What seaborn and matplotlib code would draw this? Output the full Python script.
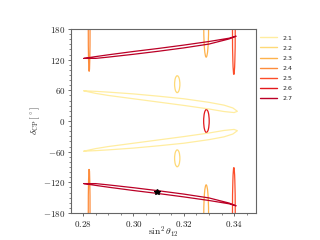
import pandas as pd
import matplotlib.pyplot as plt
import seaborn as sns
from matplotlib.patches import Ellipse
from matplotlib.lines import Line2D

# contour levels and their colours
levels = ["2.1", "2.2", "2.3", "2.4", "2.5", "2.6", "2.7"]
level_colors = dict(zip(levels, sns.color_palette("YlOrRd", 7)))

# thin tilted loops (upper edge left->right, lower edge right->left)
loop_21_top_x = [0.2803, 0.285, 0.29, 0.30, 0.31, 0.32, 0.33, 0.336, 0.3395, 0.3413,
                 0.3400, 0.336, 0.33, 0.32, 0.31, 0.30, 0.29, 0.285, 0.2803]
loop_21_top_y = [59, 58, 56.5, 53, 48.5, 43.5, 36.5, 31, 25.5, 19,
                 16.5, 18.5, 23.5, 30.5, 37, 43.5, 50, 54, 59]
loop_21_bot_x = [0.2803, 0.285, 0.29, 0.30, 0.31, 0.32, 0.33, 0.336, 0.3395, 0.3413,
                 0.3400, 0.336, 0.33, 0.32, 0.31, 0.30, 0.29, 0.285, 0.2803]
loop_21_bot_y = [-59, -58, -56.5, -53, -48.5, -43.5, -36.5, -31, -25.5, -19,
                 -16.5, -18.5, -23.5, -30.5, -37, -43.5, -50, -54, -59]

loop_27_top_x = [0.2803, 0.285, 0.29, 0.30, 0.31, 0.32, 0.33, 0.338, 0.3408,
                 0.338, 0.33, 0.32, 0.31, 0.30, 0.29, 0.285, 0.2803]
loop_27_top_y = [122.5, 126, 129.5, 136, 142, 148.5, 155.5, 162, 166,
                 160.5, 150.5, 143, 136.5, 130.5, 125, 122.5, 122.5]
loop_27_bot_x = [0.2803, 0.285, 0.29, 0.30, 0.31, 0.32, 0.33, 0.338, 0.3408,
                 0.338, 0.33, 0.32, 0.31, 0.30, 0.29, 0.285, 0.2803]
loop_27_bot_y = [-122.5, -126, -129.5, -136, -142, -148.5, -155.5, -162, -166,
                 -160.5, -150.5, -143, -136.5, -130.5, -125, -122.5, -122.5]

# small closed contours (centre, full width, full height)
ell_level = ["2.2", "2.2", "2.3", "2.3", "2.4", "2.4", "2.5", "2.5", "2.6"]
ell_x = [0.3174, 0.3174, 0.3289, 0.3289, 0.2824, 0.2824, 0.3399, 0.3399, 0.3290]
ell_y = [72, -73, 180, -180, 180, -180, 180, -180, 0]
ell_w = [0.0021, 0.0021, 0.0019, 0.0019, 0.0007, 0.0007, 0.0011, 0.0011, 0.0022]
ell_h = [33, 33, 110, 110, 166, 172, 178, 178, 45]

# best fit point
best_x = [0.3095]
best_y = [-139]

xticks = [0.28, 0.30, 0.32, 0.34]
xtick_labels = [r"$0.28$", r"$0.30$", r"$0.32$", r"$0.34$"]
yticks = [-180, -120, -60, 0, 60, 120, 180]
ytick_labels = [r"$-180$", r"$-120$", r"$-60$", r"$0$", r"$60$", r"$120$", r"$180$"]

sns.set_style("ticks")
plt.rcParams["mathtext.fontset"] = "cm"
plt.rcParams["font.family"] = ["DejaVu Sans"]

loops = [
    ("2.1", "a", loop_21_top_x, loop_21_top_y),
    ("2.1", "b", loop_21_bot_x, loop_21_bot_y),
    ("2.7", "c", loop_27_top_x, loop_27_top_y),
    ("2.7", "d", loop_27_bot_x, loop_27_bot_y),
]
rows = []
for lev, part, xs, ys in loops:
    for i, (x, y) in enumerate(zip(xs, ys)):
        rows.append({"level": lev, "part": part, "order": i, "x": x, "y": y})
df = pd.DataFrame(rows)

fig = plt.figure(figsize=(3.2, 2.4), dpi=100)
ax = fig.add_axes([0.222, 0.1125, 0.578, 0.7667])

sns.lineplot(data=df, x="x", y="y", hue="level", units="part", estimator=None,
             sort=False, palette=level_colors, linewidth=0.9, legend=False, ax=ax)

for lev, x, y, w, h in zip(ell_level, ell_x, ell_y, ell_w, ell_h):
    ax.add_patch(Ellipse((x, y), w, h, fill=False, edgecolor=level_colors[lev], linewidth=0.9))

ax.plot(best_x, best_y, marker="*", color="black", markersize=4, linestyle="none")

ax.set_xlim(0.2752, 0.3487)
ax.set_ylim(-180, 180)
ax.set_xticks(xticks, xtick_labels)
ax.set_yticks(yticks, ytick_labels)
ax.set_xticks([0.285, 0.29, 0.295, 0.305, 0.31, 0.315, 0.325, 0.33, 0.335, 0.345], minor=True)
ax.set_yticks([v for v in range(-170, 180, 10) if v % 60 != 0], minor=True)
ax.tick_params(which="major", labelsize=6.5, length=2.5, width=0.6, color="#555555", pad=1.5)
ax.tick_params(which="minor", length=1.3, width=0.5, color="#555555")
for s in ax.spines.values():
    s.set_color("#666666")
    s.set_linewidth(0.8)

ax.set_xlabel(r"$\sin^2\theta_{12}$", fontsize=7, labelpad=-3)
ax.set_ylabel(r"$\delta_{\rm CP}\,[^\circ]$", fontsize=7, labelpad=1)

handles = [Line2D([0], [0], color=level_colors[lev], linewidth=1.0) for lev in levels]
ax.legend(handles, levels, loc="upper left", bbox_to_anchor=(1.0, 0.99), frameon=False,
          fontsize=4.5, handlelength=2.7, labelspacing=0.75, borderaxespad=0.3)

fig.savefig("out.png", dpi=100)
plt.close(fig)
